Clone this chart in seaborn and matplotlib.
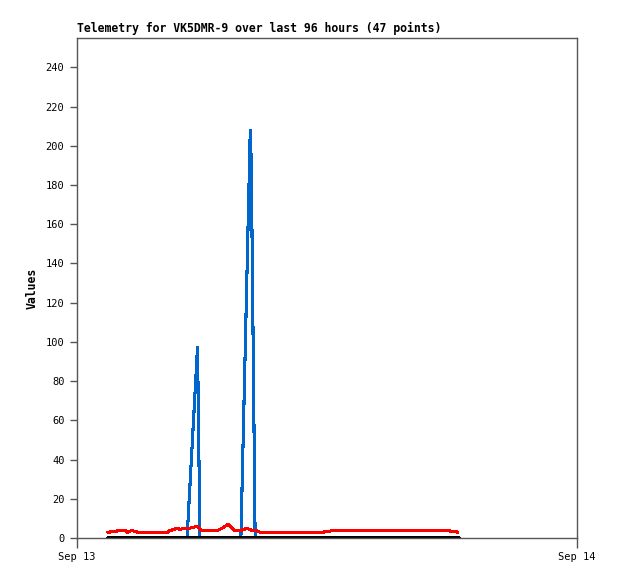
import pandas as pd
import matplotlib
matplotlib.use('Agg')
import matplotlib.pyplot as plt
import matplotlib.dates as mdates
import seaborn as sns

sns.set_style('white')
plt.rcParams['font.family'] = ['DejaVu Sans Mono']

day = '2023-09-13 '

# red series
red_times = ['01:29', '01:41', '01:49', '02:07', '02:18', '02:25', '02:38', '02:44',
             '02:56', '04:22', '04:28', '04:37', '04:48', '04:57', '05:08', '05:25',
             '05:34', '05:46', '05:59', '06:46', '06:58', '07:16', '07:24', '07:32',
             '07:52', '08:04', '08:10', '08:18', '08:24', '08:36', '08:47', '11:51',
             '11:54', '12:09', '12:12', '17:51', '17:54', '18:12', '18:14', '18:17']
red_values = [2.9, 3.2, 3.4, 3.9, 3.9, 2.9, 3.9, 3.5,
              2.9, 2.9, 3.9, 4.2, 5.0, 4.4, 5.0, 5.0,
              5.4, 6.0, 3.9, 3.9, 5.0, 7.0, 5.6, 3.9,
              3.9, 4.6, 5.0, 4.2, 3.9, 3.9, 2.9, 2.9,
              3.4, 3.4, 3.9, 3.9, 3.4, 3.4, 2.9, 2.9]

# blue series
blue_times = ['01:29', '05:17', '05:47', '05:49', '05:54',
              '07:52', '08:19', '08:22', '08:33', '18:17']
blue_values = [0, 0, 97, 72, 0,
               0, 208, 190, 0, 0]

# black series
black_times = ['01:29', '18:17']
black_values = [0, 0]

red = pd.DataFrame({'t': pd.to_datetime([day + t for t in red_times]), 'v': red_values})
blue = pd.DataFrame({'t': pd.to_datetime([day + t for t in blue_times]), 'v': blue_values})
black = pd.DataFrame({'t': pd.to_datetime([day + t for t in black_times]), 'v': black_values})

fig = plt.figure(figsize=(6.18, 5.79), dpi=100)
ax = fig.add_axes([77 / 618, 41 / 579, 500 / 618, 500 / 579])

sns.lineplot(data=blue, x='t', y='v', color='#0066cc', linewidth=1.5, antialiased=False, ax=ax)
sns.lineplot(data=red, x='t', y='v', color='#ff0000', linewidth=1.5, antialiased=False, ax=ax)
sns.lineplot(data=black, x='t', y='v', color='black', linewidth=2.4, antialiased=False, ax=ax)

ax.set_xlim(pd.Timestamp('2023-09-13'), pd.Timestamp('2023-09-14'))
ax.set_ylim(0, 255)
ax.set_yticks(range(0, 241, 20))
ax.set_xticks([pd.Timestamp('2023-09-13'), pd.Timestamp('2023-09-14')])
ax.xaxis.set_major_formatter(mdates.DateFormatter('%b %d'))

for s in ax.spines.values():
    s.set_color('#555555')
    s.set_linewidth(1)

ax.tick_params(axis='y', direction='out', length=5, width=1, color='#555555',
               labelsize=7.5, labelcolor='black', pad=4, left=True)
ax.tick_params(axis='x', direction='out', length=7, width=1, color='#555555',
               labelsize=7.5, labelcolor='black', pad=3, bottom=True)

ax.set_title('Telemetry for VK5DMR-9 over last 96 hours (47 points)',
             loc='left', fontsize=8.3, fontweight='bold', color='black', pad=4)
ax.set_ylabel('Values', fontsize=8.3, fontweight='bold', color='black', labelpad=5)
ax.set_xlabel('')

fig.savefig('out.png', dpi=100)
